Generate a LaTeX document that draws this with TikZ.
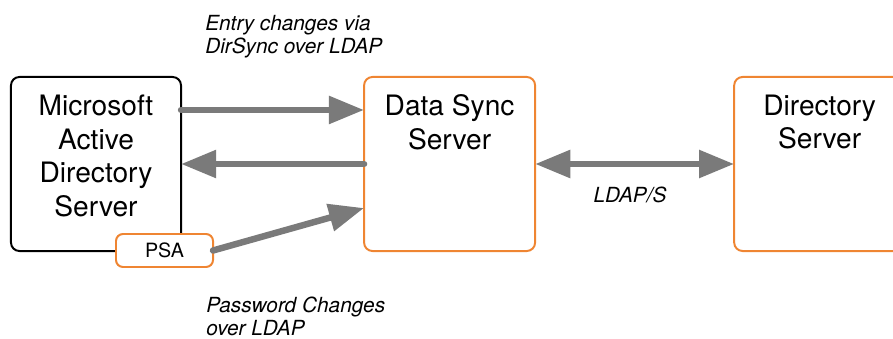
\documentclass[tikz,border=0pt]{standalone}
\usepackage{fontspec}
\setmainfont{TeX Gyre Heros}
\usetikzlibrary{positioning,calc,arrows.meta}
\definecolor{syncorange}{RGB}{239,133,50}
\definecolor{flowgray}{RGB}{122,122,122}
\tikzset{
  server/.style={draw=syncorange, line width=1.4pt, rounded corners=6pt,
    minimum width=4.275cm, minimum height=4.35cm, inner sep=0pt, outer sep=0pt},
  servertext/.style={inner sep=0pt, align=center, font=\fontsize{20}{24}\selectfont},
  flow/.style={draw=flowgray, line width=4.6pt, line cap=round,
    -{Triangle[length=25pt,width=19pt]}},
  note/.style={inner sep=0pt, align=left, font=\itshape\fontsize{14.8}{16.4}\selectfont},
}
\begin{document}
\begin{tikzpicture}[x=0.025cm,y=-0.025cm]
    \useasboundingbox (0,0) rectangle (893,339);
    \clip (0,0) rectangle (893,339);
    %
    \node[server, draw=black, minimum width=4.25cm] (ad) at (96,164) {};
    \node[servertext, below=12.4pt of ad.north] (adtext) {Microsoft\\Active\\Directory\\Server};
    %
    \node[server, right=4.575cm of ad] (dss) {};
    \node[servertext, below=12.4pt of dss.north] (dsstext) {Data Sync\\Server};
    %
    \node[server, right=4.975cm of dss] (ds) {};
    \node[servertext, below=12.4pt of ds.north] (dstext) {Directory\\Server};
    %
    \node[server, fill=white, rounded corners=5pt, minimum width=2.425cm,
      minimum height=0.825cm, font=\fontsize{14}{16}\selectfont] (psa) at (164.5,250.5) {PSA};
    %%%%%%%%%%%%%%%%%%%%%%
    \draw[flow] ($(ad.north east)+(0,33)$) -- ($(dss.north west)+(0,33)$);
    %
    \draw[flow] (dss.west) -- (ad.east);
    %
    \draw[flow] (psa.east) -- ($(dss.south west)+(0,-43)$);
    %
    \draw[flow, {Triangle[length=25pt,width=19pt]}-{Triangle[length=25pt,width=19pt]}] (dss.east) -- (ds.west);
    %%%%%%%%%%%%%%%%%%%%%%
    \node[note, anchor=north west] (entry) at (205,15) {Entry changes via\\DirSync over LDAP};
    %
    \node[note, anchor=base] (ldaps) at (630,203) {LDAP/S};
    %
    \node[note, anchor=north west] (password) at (206,297) {Password Changes\\over LDAP};
\end{tikzpicture}
\end{document}
